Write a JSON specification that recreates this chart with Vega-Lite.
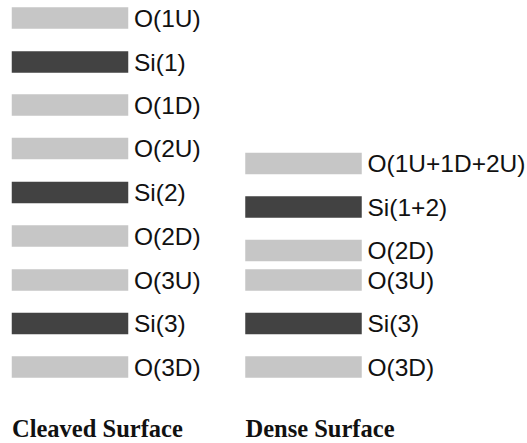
{
  "$schema": "https://vega.github.io/schema/vega-lite/v6.json",
  "width": 527,
  "height": 443,
  "padding": 0,
  "autosize": {"type": "none"},
  "background": "white",
  "config": {"view": {"stroke": null}},
  "datasets": {
    "layers": [
      {"surface": "Cleaved Surface", "label": "O(1U)", "element": "O", "depth": 18},
      {"surface": "Cleaved Surface", "label": "Si(1)", "element": "Si", "depth": 62},
      {"surface": "Cleaved Surface", "label": "O(1D)", "element": "O", "depth": 105},
      {"surface": "Cleaved Surface", "label": "O(2U)", "element": "O", "depth": 148.5},
      {"surface": "Cleaved Surface", "label": "Si(2)", "element": "Si", "depth": 192.5},
      {"surface": "Cleaved Surface", "label": "O(2D)", "element": "O", "depth": 236},
      {"surface": "Cleaved Surface", "label": "O(3U)", "element": "O", "depth": 280},
      {"surface": "Cleaved Surface", "label": "Si(3)", "element": "Si", "depth": 323.5},
      {"surface": "Cleaved Surface", "label": "O(3D)", "element": "O", "depth": 367},
      {"surface": "Dense Surface", "label": "O(1U+1D+2U)", "element": "O", "depth": 163.5},
      {"surface": "Dense Surface", "label": "Si(1+2)", "element": "Si", "depth": 207},
      {"surface": "Dense Surface", "label": "O(2D)", "element": "O", "depth": 250.5},
      {"surface": "Dense Surface", "label": "O(3U)", "element": "O", "depth": 280},
      {"surface": "Dense Surface", "label": "Si(3)", "element": "Si", "depth": 323.5},
      {"surface": "Dense Surface", "label": "O(3D)", "element": "O", "depth": 367}
    ],
    "titles": [
      {"surface": "Cleaved Surface"},
      {"surface": "Dense Surface"}
    ]
  },
  "layer": [
    {
      "data": {"name": "layers"},
      "mark": {"type": "tick", "orient": "horizontal", "size": 116.5, "thickness": 21.7, "opacity": 1},
      "encoding": {
        "x": {"field": "surface", "type": "nominal", "scale": {"type": "point", "domain": ["Cleaved Surface", "Dense Surface"], "range": [70, 303.5], "padding": 0}, "axis": null},
        "y": {"field": "depth", "type": "quantitative", "scale": {"domain": [0, 443], "range": [0, 443], "nice": false, "zero": false}, "axis": null},
        "color": {"field": "element", "type": "nominal", "scale": {"domain": ["O", "Si"], "range": ["#c6c6c6", "#424242"]}, "legend": null}
      }
    },
    {
      "data": {"name": "layers"},
      "mark": {"type": "text", "align": "left", "baseline": "middle", "dx": 64, "dy": 1.5, "font": "Liberation Sans", "fontSize": 24.5, "color": "#111111"},
      "encoding": {
        "x": {"field": "surface", "type": "nominal", "scale": {"type": "point", "domain": ["Cleaved Surface", "Dense Surface"], "range": [70, 303.5], "padding": 0}, "axis": null},
        "y": {"field": "depth", "type": "quantitative", "scale": {"domain": [0, 443], "range": [0, 443], "nice": false, "zero": false}, "axis": null},
        "text": {"field": "label"}
      }
    },
    {
      "data": {"name": "titles"},
      "mark": {"type": "text", "align": "left", "baseline": "alphabetic", "dx": -58, "font": "Liberation Serif", "fontWeight": "bold", "fontSize": 24.5, "color": "#111111"},
      "encoding": {
        "x": {"field": "surface", "type": "nominal", "scale": {"type": "point", "domain": ["Cleaved Surface", "Dense Surface"], "range": [70, 303.5], "padding": 0}, "axis": null},
        "y": {"datum": 437, "type": "quantitative", "scale": {"domain": [0, 443], "range": [0, 443], "nice": false, "zero": false}, "axis": null},
        "text": {"field": "surface"}
      }
    }
  ]
}
